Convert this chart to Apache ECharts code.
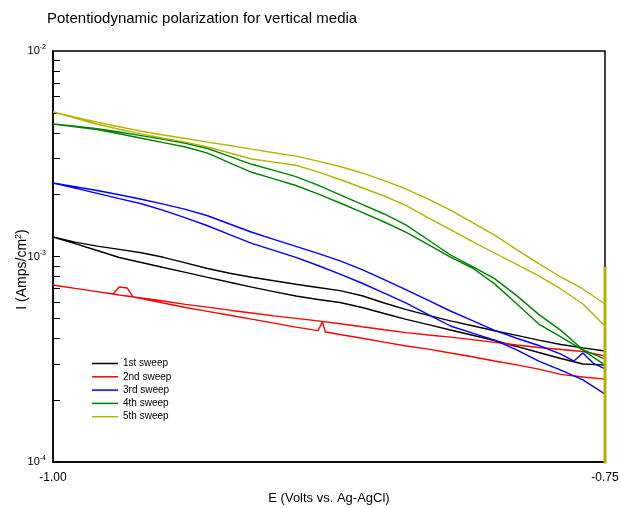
<!DOCTYPE html>
<html>
<head>
<meta charset="utf-8">
<script src="https://cdn.jsdelivr.net/npm/echarts@6/dist/echarts.min.js"></script>
<style>
  html, body { margin: 0; padding: 0; background: #fff; }
  #chart { width: 621px; height: 508px; }
</style>
</head>
<body>
<div id="chart"></div>
<script>
// Potential grid shared by every branch (V vs. Ag-AgCl)
const potential = [-1.00, -0.99, -0.98, -0.97, -0.96, -0.95, -0.94, -0.93, -0.92, -0.91,
  -0.90, -0.89, -0.88, -0.87, -0.86, -0.85, -0.84, -0.83, -0.82, -0.81,
  -0.80, -0.79, -0.78, -0.77, -0.76, -0.75];

const potentialTicks = [-1.00, -0.75];
const currentTicks = [1e-4, 2e-4, 3e-4, 4e-4, 5e-4, 6e-4, 7e-4, 8e-4, 9e-4,
  1e-3, 2e-3, 3e-3, 4e-3, 5e-3, 6e-3, 7e-3, 8e-3, 9e-3, 1e-2];

const sweepNames = ['1st sweep', '2nd sweep', '3rd sweep', '4th sweep', '5th sweep'];
const sweepColors = ['#000000', '#ff0000', '#0000ff', '#008000', '#b4b400'];

// Current density in mA/cm², upper and lower branch of each sweep on the potential grid
const sweep1Upper = [1.244, 1.175, 1.124, 1.083, 1.043, 0.991, 0.931, 0.874, 0.829, 0.793,
  0.762, 0.733, 0.707, 0.682, 0.644, 0.594, 0.551, 0.517, 0.486, 0.460,
  0.435, 0.413, 0.392, 0.373, 0.359, 0.347];
const sweep1Lower = [1.244, 1.155, 1.070, 0.989, 0.935, 0.884, 0.837, 0.791, 0.749, 0.710,
  0.675, 0.642, 0.618, 0.597, 0.565, 0.528, 0.494, 0.466, 0.439, 0.414,
  0.390, 0.365, 0.341, 0.319, 0.300, 0.296];

const sweep2Upper = [0.727, 0.700, 0.675, 0.650, 0.628, 0.607, 0.585, 0.567, 0.548, 0.531,
  0.514, 0.500, 0.486, 0.471, 0.455, 0.440, 0.426, 0.415, 0.405, 0.394,
  0.382, 0.371, 0.361, 0.353, 0.345, 0.328];
const sweep2Lower = [0.727, 0.700, 0.675, 0.710, 0.624, 0.594, 0.565, 0.541, 0.518, 0.496,
  0.474, 0.453, 0.436, 0.417, 0.400, 0.383, 0.367, 0.354, 0.339, 0.325,
  0.310, 0.297, 0.283, 0.267, 0.259, 0.253];
// off-grid readings: small loop near -0.97 V and a spike near -0.878 V
const sweep2LowerExtra = [[-0.9728, 0.657], [-0.9664, 0.703], [-0.9637, 0.635],
  [-0.8780, 0.480], [-0.8766, 0.429]];

const sweep3Upper = [2.279, 2.186, 2.096, 1.997, 1.900, 1.799, 1.695, 1.579, 1.439, 1.312,
  1.211, 1.120, 1.035, 0.953, 0.864, 0.772, 0.688, 0.611, 0.543, 0.487,
  0.437, 0.400, 0.369, 0.335, 0.339, 0.284];
const sweep3UpperExtra = [[-0.7641, 0.310], [-0.7554, 0.303]];
const sweep3Lower = [2.279, 2.151, 2.030, 1.913, 1.805, 1.676, 1.541, 1.411, 1.278, 1.159,
  1.071, 0.990, 0.904, 0.820, 0.741, 0.664, 0.593, 0.522, 0.459, 0.424,
  0.392, 0.351, 0.310, 0.280, 0.251, 0.214];

const sweep4Upper = [4.414, 4.302, 4.187, 4.035, 3.875, 3.718, 3.556, 3.354, 3.070, 2.810,
  2.624, 2.448, 2.226, 1.997, 1.795, 1.610, 1.422, 1.203, 1.017, 0.892,
  0.780, 0.645, 0.523, 0.437, 0.352, 0.317];
const sweep4Lower = [4.414, 4.277, 4.145, 3.955, 3.764, 3.583, 3.411, 3.186, 2.858, 2.569,
  2.386, 2.216, 2.019, 1.821, 1.641, 1.472, 1.310, 1.141, 0.994, 0.879,
  0.736, 0.589, 0.469, 0.406, 0.350, 0.296];

const sweep5Upper = [5.05, 4.77, 4.50, 4.28, 4.07, 3.90, 3.75, 3.60, 3.47, 3.33,
  3.20, 3.08, 2.91, 2.74, 2.55, 2.34, 2.13, 1.90, 1.68, 1.46,
  1.27, 1.08, 0.923, 0.795, 0.695, 0.587];
const sweep5Lower = [5.05, 4.72, 4.40, 4.16, 3.95, 3.76, 3.60, 3.41, 3.19, 2.98,
  2.88, 2.78, 2.58, 2.37, 2.16, 1.97, 1.77, 1.54, 1.35, 1.18,
  1.04, 0.915, 0.804, 0.695, 0.587, 0.459];
// reversal point of the 5th sweep: jump up, then current collapses below scale
const sweep5Reversal = [[-0.75, 0.889], [-0.75, 0.01]];

const FONT = 'Liberation Sans, Arial, sans-serif';
const toAmps = v => v * 1e-3;

function branch(values, extra) {
  const pts = potential.map((e, i) => [e, values[i]]);
  (extra || []).forEach(p => pts.push(p));
  pts.sort((a, b) => a[0] - b[0]);
  return pts.map(p => [p[0], toAmps(p[1])]);
}
function loop(upper, lower) {
  return upper.concat(lower.slice().reverse());
}

const loops = [
  loop(branch(sweep1Upper), branch(sweep1Lower)),
  loop(branch(sweep2Upper), branch(sweep2Lower, sweep2LowerExtra)),
  loop(branch(sweep3Upper, sweep3UpperExtra), branch(sweep3Lower)),
  loop(branch(sweep4Upper), branch(sweep4Lower)),
  loop(branch(sweep5Upper), branch(sweep5Lower))
];

const series = loops.map((data, i) => ({
  name: sweepNames[i],
  type: 'line',
  data: data,
  symbol: 'none',
  showSymbol: false,
  clip: true,
  lineStyle: { color: sweepColors[i], width: 1.4 },
  itemStyle: { color: sweepColors[i] },
  z: 2 + i
}));
series.push({
  name: sweepNames[4],
  type: 'line',
  data: sweep5Reversal.map(p => [p[0], toAmps(p[1])]),
  symbol: 'none',
  showSymbol: false,
  clip: true,
  lineStyle: { color: sweepColors[4], width: 3 },
  itemStyle: { color: sweepColors[4] },
  z: 8
});

const chart = echarts.init(document.getElementById('chart'), null, { renderer: 'canvas' });
chart.setOption({
  animation: false,
  backgroundColor: '#fff',
  textStyle: { fontFamily: FONT, color: '#000' },
  title: {
    text: 'Potentiodynamic polarization for vertical media',
    left: 47, top: 11, padding: 0,
    textStyle: { fontFamily: FONT, fontSize: 15, fontWeight: 'normal', color: '#000' }
  },
  grid: {
    left: 53, right: 16, top: 51, bottom: 46,
    outerBoundsMode: 'none',
    containLabel: false,
    show: true, borderColor: '#000', borderWidth: 1.5, backgroundColor: 'transparent'
  },
  legend: {
    data: sweepNames,
    orient: 'vertical',
    left: 92, top: 357, padding: 0,
    icon: 'rect',
    itemWidth: 26, itemHeight: 1.5, itemGap: 0.3,
    selectedMode: false,
    textStyle: { fontFamily: FONT, fontSize: 10, color: '#000', lineHeight: 13 }
  },
  xAxis: {
    type: 'value',
    min: potentialTicks[0], max: potentialTicks[1],
    interval: potentialTicks[1] - potentialTicks[0],
    axisLine: { show: true, lineStyle: { color: '#000', width: 1.5 } },
    axisTick: { show: false },
    splitLine: { show: false },
    axisLabel: { formatter: v => v.toFixed(2), color: '#000', fontFamily: FONT, fontSize: 12, margin: 10 },
    name: 'E (Volts vs. Ag-AgCl)',
    nameLocation: 'middle', nameGap: 30,
    nameTextStyle: { fontFamily: FONT, fontSize: 13, color: '#000' }
  },
  yAxis: {
    type: 'log', logBase: 10, min: 1e-4, max: 1e-2,
    axisLine: { show: true, lineStyle: { color: '#000', width: 1.5 } },
    axisTick: { show: true, inside: true, length: 7, customValues: currentTicks, lineStyle: { color: '#000', width: 1 } },
    splitLine: { show: false },
    axisLabel: {
      margin: 7,
      formatter: v => '{b|10}{s|' + Math.round(Math.log10(v)) + '}',
      rich: {
        b: { fontFamily: FONT, fontSize: 11, color: '#000', lineHeight: 14 },
        s: { fontFamily: FONT, fontSize: 7, color: '#000', lineHeight: 14, verticalAlign: 'top' }
      }
    },
    name: '{t|I (Amps/cm}{s|2}{t|)}',
    nameLocation: 'middle', nameRotate: 90, nameGap: 23,
    nameMoveOverlap: false,
    nameTextStyle: {
      padding: [0, 26, 0, 0],
      rich: {
        t: { fontFamily: FONT, fontSize: 14, color: '#000', lineHeight: 16 },
        s: { fontFamily: FONT, fontSize: 9, color: '#000', lineHeight: 16, verticalAlign: 'top' }
      }
    }
  },
  series: series
});
</script>
</body>
</html>
